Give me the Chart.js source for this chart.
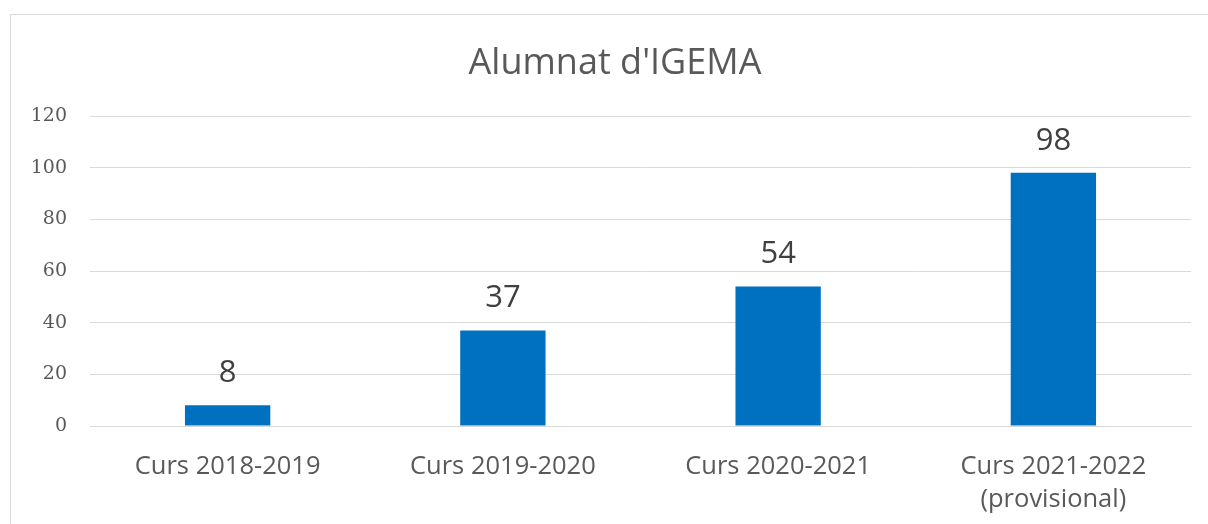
<!DOCTYPE html>
<html>
<head>
<meta charset="utf-8">
<script src="https://cdn.jsdelivr.net/npm/chart.js@4/dist/chart.umd.min.js"></script>
<style>
  html, body { margin: 0; padding: 0; background: #fff; }
  #frame {
    position: absolute; left: 10px; top: 14px;
    width: 1198px; height: 510px;
    border-left: 1px solid #d9d9d9; border-top: 1px solid #d9d9d9;
  }
  canvas { display: block; }
</style>
</head>
<body>
<div id="frame"><canvas id="chart" width="1197" height="509"></canvas></div>
<script>
const categories = ['Curs 2018-2019', 'Curs 2019-2020', 'Curs 2020-2021', ['Curs 2021-2022', '(provisional)']];
const students = [8, 37, 54, 98];
const yTicks = [0, 20, 40, 60, 80, 100, 120];
const chartTitle = "Alumnat d'IGEMA";

// title and values above the bars
const extraText = {
  id: 'extraText',
  afterDatasetsDraw(chart) {
    const ctx = chart.ctx;
    const meta = chart.getDatasetMeta(0);
    ctx.save();
    ctx.textAlign = 'center';
    ctx.textBaseline = 'middle';

    ctx.font = '36px "Open Sans", sans-serif';
    ctx.fillStyle = '#595959';
    ctx.fillText(chartTitle, 604, 49);

    ctx.font = '31px "Open Sans", sans-serif';
    ctx.fillStyle = '#404040';
    meta.data.forEach((bar, i) => {
      ctx.fillText(String(students[i]), bar.x, bar.y - 32);
    });
    ctx.restore();
  }
};

new Chart(document.getElementById('chart'), {
  type: 'bar',
  data: {
    labels: categories,
    datasets: [{
      data: students,
      backgroundColor: '#0070C0',
      borderWidth: 0,
      barPercentage: 0.31,
      categoryPercentage: 1
    }]
  },
  options: {
    responsive: false,
    animation: false,
    layout: { padding: { left: 0, right: 17, top: 101, bottom: 0 } },
    plugins: {
      legend: { display: false },
      tooltip: { enabled: false },
      title: { display: false }
    },
    scales: {
      x: {
        grid: { display: false, drawTicks: false },
        border: { display: true, color: '#d9d9d9', width: 1 },
        ticks: {
          color: '#595959',
          font: { family: '"Open Sans", sans-serif', size: 25.5, lineHeight: 1.3 },
          padding: 24,
          maxRotation: 0
        },
        afterFit(scale) { scale.height = 98; }
      },
      y: {
        min: 0, max: 120,
        afterBuildTicks(scale) { scale.ticks = yTicks.map(v => ({ value: v })); },
        grid: { color: '#d9d9d9', lineWidth: 1, drawTicks: false },
        border: { display: false },
        ticks: {
          color: '#595959',
          font: { family: '"DejaVu Serif", serif', size: 19 },
          padding: 23
        },
        afterFit(scale) { scale.width = 79; }
      }
    }
  },
  plugins: [extraText]
});
</script>
</body>
</html>
